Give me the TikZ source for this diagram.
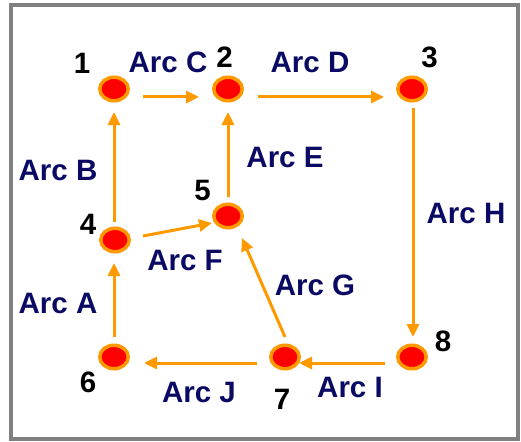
\documentclass[tikz,border=0pt]{standalone}
\usepackage{fontspec}
\setmainfont{Liberation Sans}
\usetikzlibrary{arrows.meta,shapes.geometric,calc}
\definecolor{arcorange}{RGB}{255,153,0}
\definecolor{dotred}{RGB}{255,0,0}
\definecolor{navytext}{RGB}{10,10,100}
\definecolor{framegray}{RGB}{128,128,128}
\tikzset{
  dot/.style={ellipse,draw=arcorange,fill=dotred,line width=3.5pt,minimum width=28.5pt,minimum height=23.5pt,inner sep=0pt},
  arr/.style={draw=arcorange,line width=3pt,-{Triangle[length=13pt,width=12pt]}},
  num/.style={anchor=base,inner sep=0pt,font=\fontsize{29.5}{31}\selectfont\bfseries,text=black},
  lab/.style={anchor=base,inner sep=0pt,font=\fontsize{29.5}{31}\selectfont\bfseries,text=navytext}
}
\begin{document}
\begin{tikzpicture}[x=1pt,y=-1pt]
\useasboundingbox (0,0) rectangle (521,441);
\draw[framegray,line width=4pt] (10.5,5.3) rectangle (517.5,438.7);
% nodes
\node[dot] (n1) at (114,89) {};
\node[dot] (n2) at (228,89) {};
\node[dot] (n3) at (412,89) {};
\node[dot] (n4) at (115,240) {};
\node[dot] (n5) at (228,216) {};
\node[dot] (n6) at (114,357) {};
\node[dot] (n7) at (285,357) {};
\node[dot] (n8) at (412,357) {};
% numbers
\node[num] (t1) at (82,74) {1};
\node[num] (t2) at (224.5,68) {2};
\node[num] (t3) at (429.5,67.5) {3};
\node[num] (t4) at (88,234) {4};
\node[num] (t5) at (202.5,200.5) {5};
\node[num] (t6) at (88,392.5) {6};
\node[num] (t7) at (282,409.5) {7};
\node[num] (t8) at (443,351.5) {8};
% arcs
\draw[arr] ($(n1)+(29,8)$) -- ($(n2)+(-29,8)$);
\draw[arr] ($(n2)+(30,8)$) -- ($(n3)+(-28,8)$);
\draw[arr] ($(n4)+(-1,-18)$) -- ($(n1)+(0,23)$);
\draw[arr] ($(n5)+(0,-19)$) -- ($(n2)+(0,23)$);
\draw[arr] ($(n3)+(1,19)$) -- ($(n8)+(1,-20)$);
\draw[arr] ($(n4)+(28,-4)$) -- ($(n5)+(-16,7)$);
\draw[arr] ($(n6)+(0,-20)$) -- ($(n4)+(-1,23)$);
\draw[arr] ($(n7)+(0,-20)$) -- ($(n5)+(14,22)$);
\draw[arr] ($(n7)+(-28,6)$) -- ($(n6)+(30,6)$);
\draw[arr] ($(n8)+(-27,6)$) -- ($(n7)+(14,6)$);
% arc labels
\node[lab] (lc) at (168,72.5) {Arc C};
\node[lab] (ld) at (310,72.5) {Arc D};
\node[lab] (lb) at (58,180.5) {Arc B};
\node[lab] (le) at (285,167.5) {Arc E};
\node[lab] (lh) at (466,223.5) {Arc H};
\node[lab] (lf) at (185,270.5) {Arc F};
\node[lab] (la) at (58,313.5) {Arc A};
\node[lab] (lg) at (315,295.5) {Arc G};
\node[lab] (lj) at (199,402.5) {Arc J};
\node[lab] (li) at (350,397.5) {Arc I};
\end{tikzpicture}
\end{document}
